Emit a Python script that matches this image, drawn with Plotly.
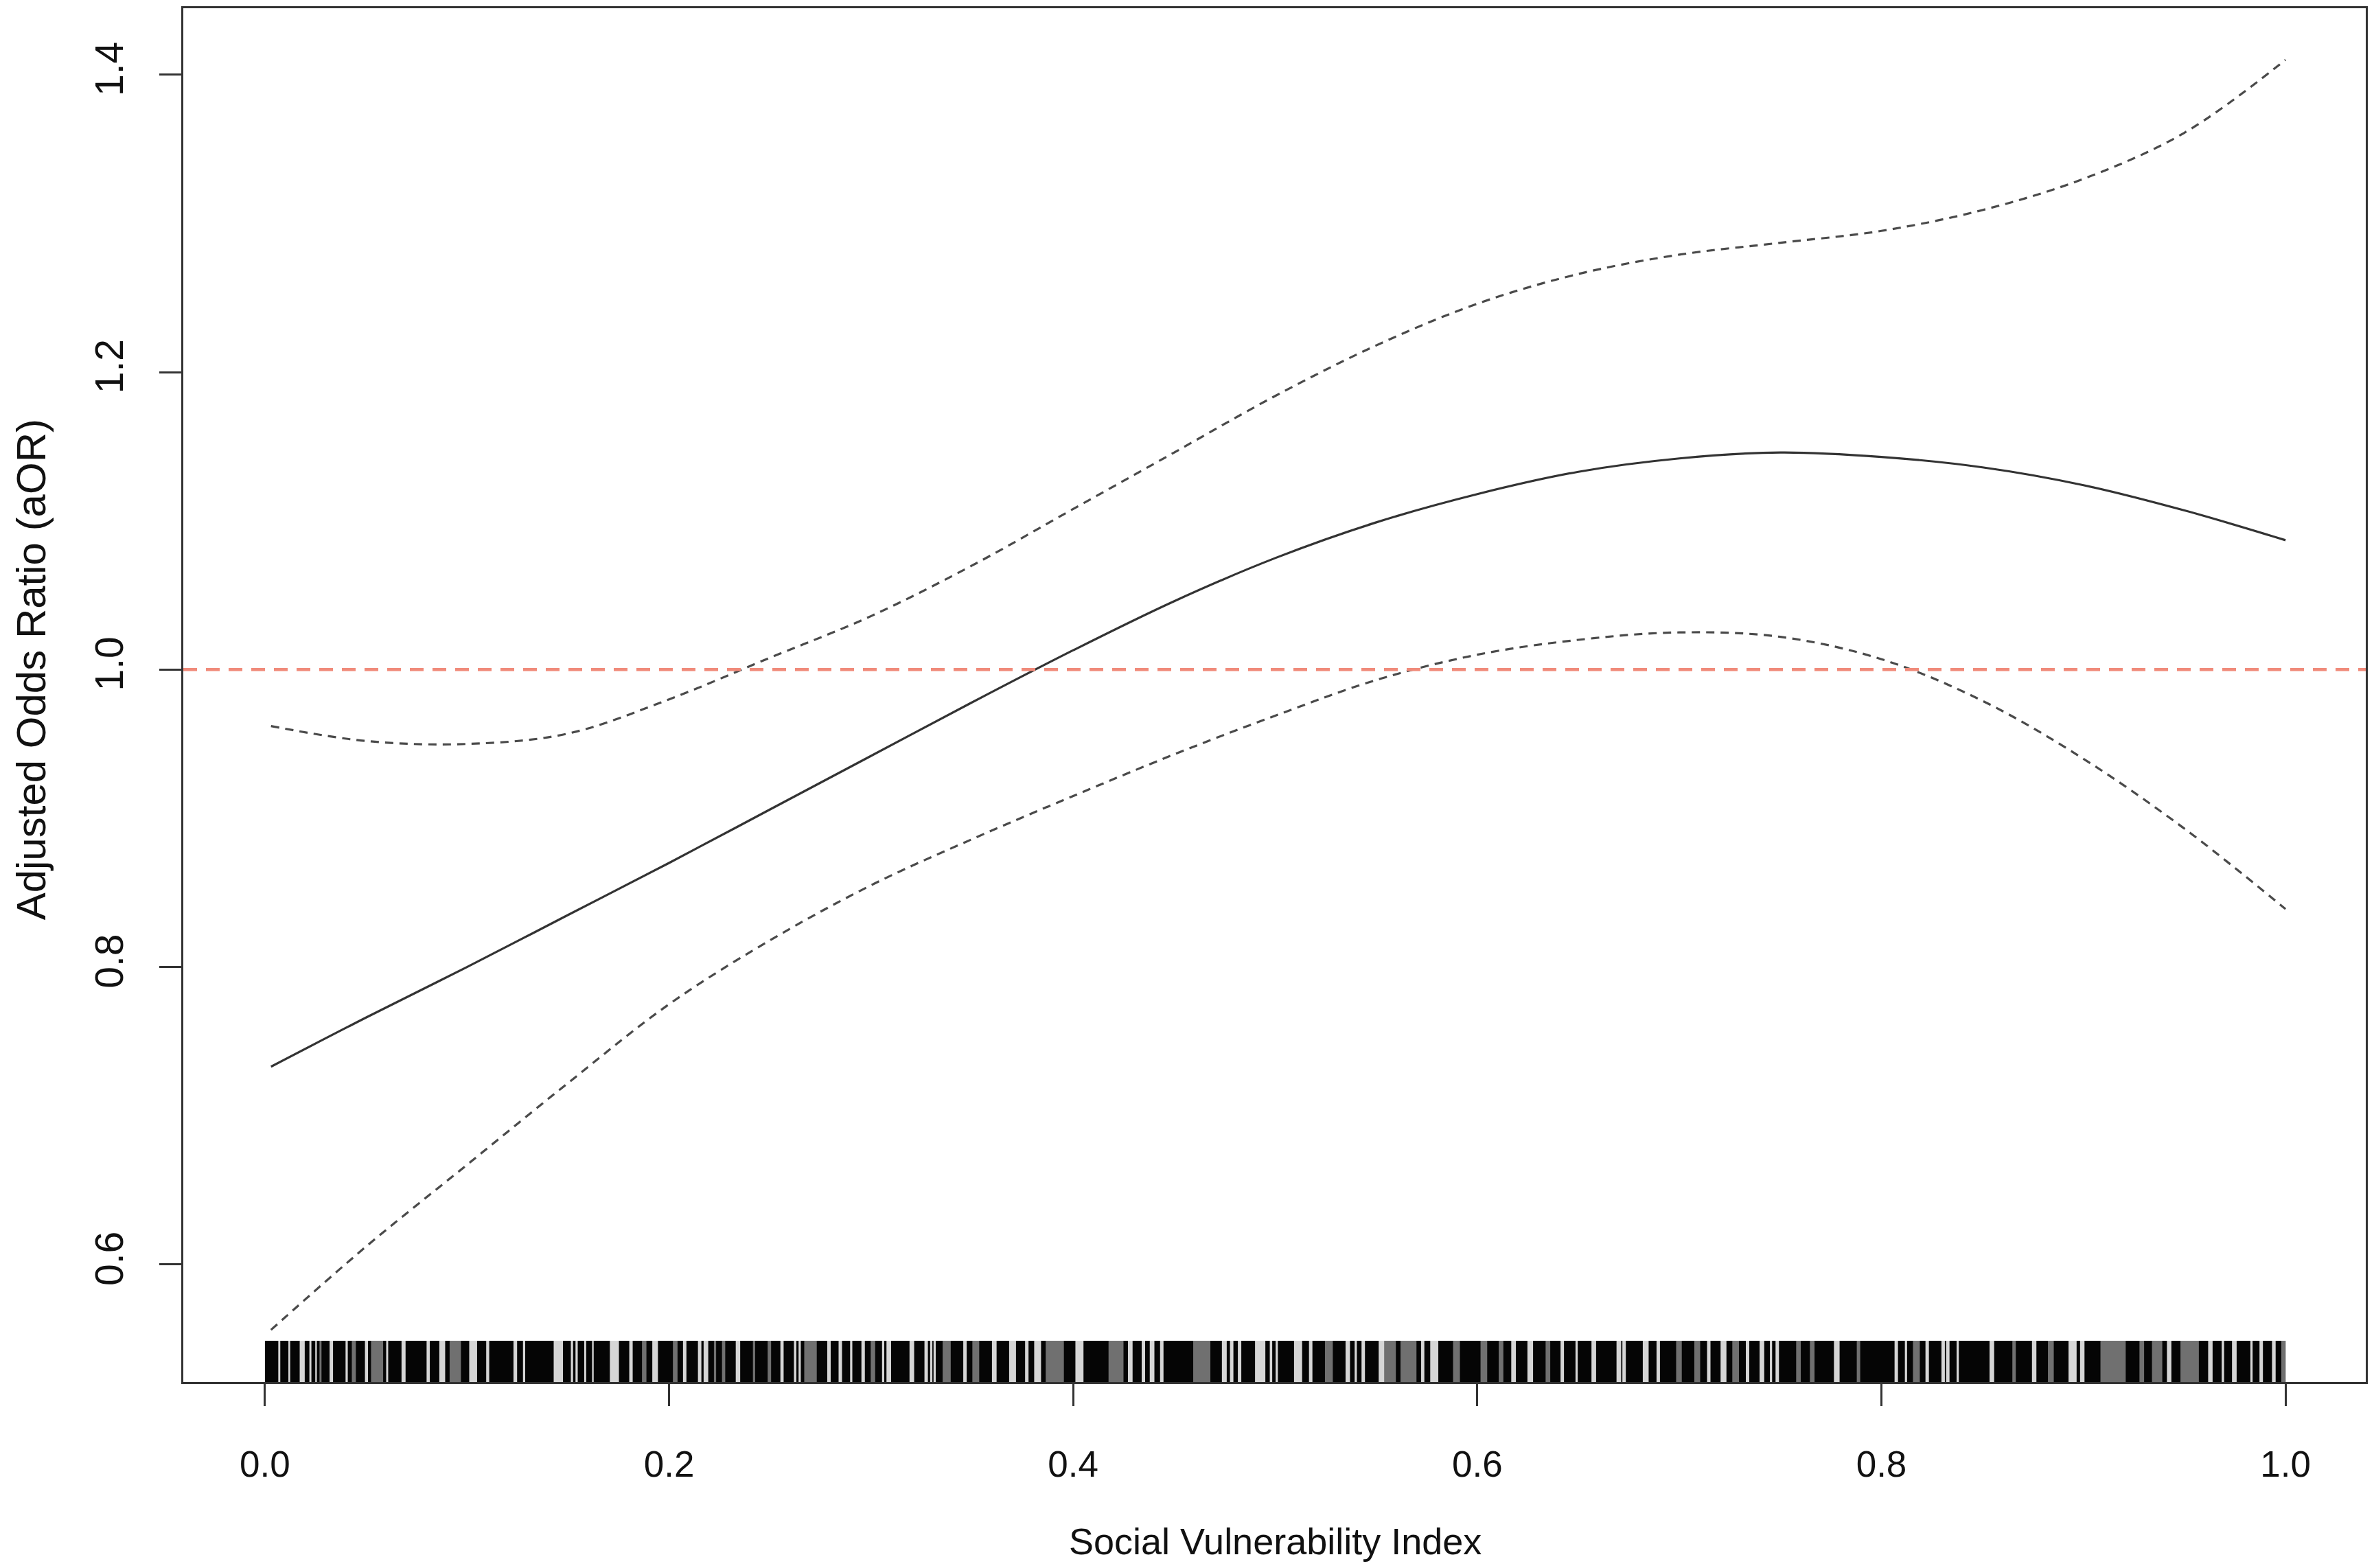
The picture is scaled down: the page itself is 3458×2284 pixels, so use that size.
import plotly.graph_objects as go

# ---- data ----
svi = [0.003, 0.05, 0.10, 0.15, 0.20, 0.25, 0.30, 0.35, 0.40, 0.45, 0.50,
       0.55, 0.60, 0.65, 0.70, 0.75, 0.80, 0.85, 0.90, 0.95, 1.00]
aor = [0.733, 0.766, 0.800, 0.835, 0.870, 0.906, 0.942, 0.978, 1.013, 1.046, 1.075,
       1.099, 1.118, 1.133, 1.142, 1.146, 1.143, 1.136, 1.124, 1.107, 1.087]
upper = [0.962, 0.952, 0.950, 0.957, 0.980, 1.008, 1.036, 1.070, 1.108, 1.146, 1.184,
         1.218, 1.246, 1.266, 1.279, 1.287, 1.295, 1.309, 1.330, 1.361, 1.410]
lower = [0.556, 0.612, 0.667, 0.722, 0.775, 0.818, 0.855, 0.886, 0.915, 0.943, 0.969,
         0.993, 1.010, 1.020, 1.025, 1.022, 1.007, 0.979, 0.940, 0.893, 0.839]

x_ticks = [0.0, 0.2, 0.4, 0.6, 0.8, 1.0]
x_tick_labels = ["0.0", "0.2", "0.4", "0.6", "0.8", "1.0"]
y_ticks = [0.6, 0.8, 1.0, 1.2, 1.4]
y_tick_labels = ["0.6", "0.8", "1.0", "1.2", "1.4"]
reference_or = 1.0

# rug: dense span of observations with lighter gaps
rug_span = [0.0, 1.0]
rug_light_gaps = [
    [0.0066, 0.0076], [0.0116, 0.0125], [0.0172, 0.0197], [0.0220, 0.0230], [0.0249, 0.0257],
    [0.0320, 0.0337], [0.0399, 0.0410], [0.0495, 0.0510], [0.0600, 0.0610], [0.0676, 0.0696],
    [0.0800, 0.0816], [0.0863, 0.0892], [0.1011, 0.1050], [0.1095, 0.1110], [0.1230, 0.1248],
    [0.1277, 0.1288], [0.1429, 0.1475], [0.1514, 0.1525], [0.1537, 0.1548], [0.1580, 0.1590],
    [0.1619, 0.1627], [0.1707, 0.1752], [0.1803, 0.1820], [0.1917, 0.1945], [0.2069, 0.2086],
    [0.2143, 0.2160], [0.2171, 0.2194], [0.2330, 0.2352], [0.2551, 0.2567], [0.2618, 0.2630],
    [0.2641, 0.2652], [0.2783, 0.2800], [0.2839, 0.2856], [0.2896, 0.2907], [0.2952, 0.2969],
    [0.3054, 0.3065], [0.3076, 0.3099], [0.3190, 0.3213], [0.3264, 0.3281], [0.3292, 0.3303],
    [0.3309, 0.3320], [0.3456, 0.3473], [0.3598, 0.3621], [0.3683, 0.3717], [0.3762, 0.3779],
    [0.3807, 0.3841], [0.4011, 0.4051], [0.4271, 0.4294], [0.4339, 0.4356], [0.4379, 0.4402],
    [0.4430, 0.4447], [0.4736, 0.4760], [0.4776, 0.4793], [0.4815, 0.4832], [0.4900, 0.4951],
    [0.4973, 0.4985], [0.5002, 0.5013], [0.5093, 0.5133], [0.5167, 0.5184], [0.5348, 0.5370],
    [0.5393, 0.5404], [0.5427, 0.5444], [0.5512, 0.5540], [0.5722, 0.5738], [0.5767, 0.5807],
    [0.6168, 0.6191], [0.6248, 0.6276], [0.6412, 0.6429], [0.6486, 0.6497], [0.6565, 0.6588],
    [0.6689, 0.6712], [0.6718, 0.6735], [0.6819, 0.6848], [0.6887, 0.6904], [0.7137, 0.7154],
    [0.7204, 0.7233], [0.7329, 0.7346], [0.7397, 0.7420], [0.7448, 0.7459], [0.7476, 0.7493],
    [0.7765, 0.7793], [0.8065, 0.8082], [0.8116, 0.8127], [0.8218, 0.8235], [0.8297, 0.8314],
    [0.8320, 0.8337], [0.8372, 0.8383], [0.8535, 0.8558], [0.8745, 0.8767], [0.8926, 0.8966],
    [0.8983, 0.9005], [0.9413, 0.9435], [0.9617, 0.9639], [0.9684, 0.9696], [0.9735, 0.9758],
    [0.9826, 0.9837], [0.9871, 0.9888], [0.9933, 0.9951],
]
rug_mid_gaps = [
    [0.0270, 0.0280], [0.0430, 0.0450], [0.0525, 0.0585], [0.0914, 0.0970], [0.1866, 0.1888],
    [0.2019, 0.2042], [0.2222, 0.2233], [0.2262, 0.2278], [0.2415, 0.2426], [0.2488, 0.2505],
    [0.2669, 0.2731], [0.2998, 0.3020], [0.3354, 0.3394], [0.3501, 0.3535], [0.3864, 0.3954],
    [0.4175, 0.4249], [0.4594, 0.4679], [0.5246, 0.5285], [0.5540, 0.5597], [0.5620, 0.5699],
    [0.5880, 0.5914], [0.6016, 0.6049], [0.6106, 0.6129], [0.6338, 0.6361], [0.6984, 0.7012],
    [0.7074, 0.7103], [0.7262, 0.7295], [0.7578, 0.7601], [0.7646, 0.7669], [0.7878, 0.7895],
    [0.8156, 0.8190], [0.8648, 0.8665], [0.8824, 0.8853], [0.9084, 0.9209], [0.9277, 0.9300],
    [0.9339, 0.9390], [0.9480, 0.9571], [0.9979, 1.0000],
]

FONT = "Liberation Sans, Arial, Helvetica, sans-serif"
AX = "#333333"
TXT = "#111111"

fig = go.Figure()
fig.add_trace(go.Scatter(x=svi, y=upper, mode="lines", line_shape="spline",
                         line=dict(color="#4a4a4a", width=3.2, dash="12px,9px"), showlegend=False))
fig.add_trace(go.Scatter(x=svi, y=lower, mode="lines", line_shape="spline",
                         line=dict(color="#4a4a4a", width=3.2, dash="12px,9px"), showlegend=False))
fig.add_trace(go.Scatter(x=svi, y=aor, mode="lines", line_shape="spline",
                         line=dict(color="#333333", width=3.2), showlegend=False))

shapes = []
shapes.append(dict(type="rect", xref="x", yref="y domain", x0=rug_span[0], x1=rug_span[1],
                   y0=0, y1=0.03, fillcolor="#050505", line=dict(width=0), layer="above"))
for a, b in rug_mid_gaps:
    shapes.append(dict(type="rect", xref="x", yref="y domain", x0=a, x1=b, y0=0, y1=0.03,
                       fillcolor="#707070", line=dict(width=0), layer="above"))
for a, b in rug_light_gaps:
    shapes.append(dict(type="rect", xref="x", yref="y domain", x0=a, x1=b, y0=0, y1=0.03,
                       fillcolor="#d6d6d6", line=dict(width=0), layer="above"))
shapes.append(dict(type="line", xref="paper", yref="y", x0=0, x1=1, y0=reference_or, y1=reference_or,
                   line=dict(color="#f08a7a", width=4.5, dash="20px,13px"), layer="above"))

fig.update_layout(
    width=3442, height=2268,
    margin=dict(l=259, r=4, t=1, b=263),
    paper_bgcolor="white", plot_bgcolor="white",
    shapes=shapes,
    font=dict(family=FONT, size=52, color=TXT),
    xaxis=dict(range=[-0.0404, 1.0397], tickvals=x_ticks, ticktext=x_tick_labels,
               ticks="outside", ticklen=32, tickwidth=2.5, tickcolor=AX,
               showline=True, mirror=True, linecolor=AX, linewidth=2.5,
               showgrid=False, zeroline=False, ticklabelstandoff=40,
               tickfont=dict(family=FONT, size=53, color=TXT)),
    yaxis=dict(range=[0.521, 1.4447], tickvals=y_ticks, ticktext=y_tick_labels,
               ticks="outside", ticklen=32, tickwidth=2.5, tickcolor=AX, tickangle=-90,
               showline=True, mirror=True, linecolor=AX, linewidth=2.5,
               showgrid=False, zeroline=False, ticklabelstandoff=30,
               tickfont=dict(family=FONT, size=57, color=TXT)),
    annotations=[
        dict(text="Social Vulnerability Index", xref="x", yref="paper", x=0.5, y=0,
             xanchor="center", yanchor="middle", yshift=-232, showarrow=False,
             font=dict(family=FONT, size=54, color=TXT)),
        dict(text="Adjusted Odds Ratio (aOR)", xref="paper", yref="y", x=0, y=1.0,
             xanchor="center", yanchor="middle", xshift=-222, textangle=-90, showarrow=False,
             font=dict(family=FONT, size=60, color=TXT)),
    ],
)

fig.write_html("out.html")
